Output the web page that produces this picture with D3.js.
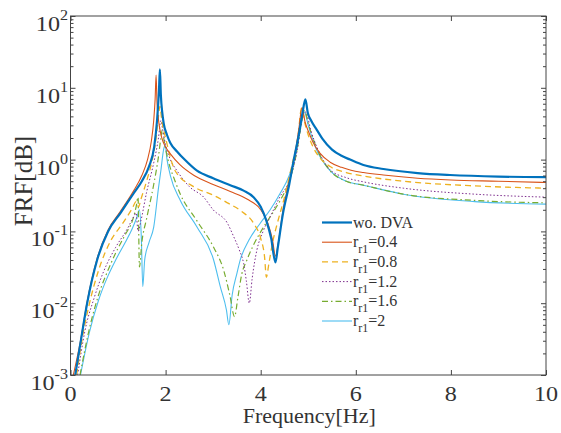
<!DOCTYPE html>
<html><head><meta charset="utf-8">
<script src="https://cdn.jsdelivr.net/npm/d3@7"></script>
<style>
body{margin:0;background:#fff}
svg text{font-family:"Liberation Serif","Times New Roman",Times,"DejaVu Serif",serif;fill:#333}
</style>
</head><body>
<svg id="chart" width="561" height="433"></svg>
<script>
// ---- data ----
const freqWo = [0.1,0.21,0.35,0.56,0.79,1.05,1.33,1.5,1.65,1.76,1.82,1.86,1.88,1.9,1.93,1.96,2.03,2.1,2.24,2.4,2.66,3.0,3.36,3.64,3.85,4.0,4.12,4.22,4.31,4.36,4.47,4.6,4.69,4.8,4.88,4.94,4.99,5.06,5.18,5.3,5.5,5.7,5.88,6.16,6.58,7.3,7.98,9,10];
const valWo  = [0.001,0.0028,0.01,0.04,0.1,0.18,0.34,0.5,0.8,1.5,3.5,9,18,8,4.5,3.2,2.2,1.7,1.3,1.0,0.7,0.55,0.44,0.37,0.3,0.22,0.14,0.08,0.037,0.06,0.18,0.45,0.95,2.2,4.5,6.9,4.5,3.5,2.6,1.95,1.38,1.13,1.0,0.84,0.74,0.65,0.61,0.58,0.57];

const freqR04 = [0.06,0.21,0.35,0.56,0.79,1.05,1.33,1.5,1.62,1.7,1.75,1.78,1.8,1.82,1.86,1.92,2.0,2.1,2.3,2.6,3.0,3.36,3.72,4.0,4.15,4.25,4.31,4.37,4.47,4.6,4.72,4.8,4.87,4.93,5.0,5.1,5.25,5.46,5.7,5.9,6.16,6.58,7.3,8,9,10];
const valR04  = [0.001,0.003,0.0105,0.042,0.105,0.19,0.37,0.6,1.0,1.8,3.5,7,15,6,3.2,2.0,1.5,1.2,0.85,0.6,0.45,0.36,0.28,0.2,0.13,0.075,0.045,0.07,0.2,0.5,1.2,2.6,5.3,3.4,2.5,1.75,1.22,0.92,0.78,0.71,0.66,0.61,0.55,0.52,0.5,0.48];

const freqR08 = [0.13,0.25,0.4,0.6,0.85,1.1,1.3,1.38,1.43,1.48,1.6,1.72,1.8,1.85,1.88,1.92,2.0,2.2,2.59,3.0,3.3,3.6,3.85,4.0,4.08,4.12,4.17,4.25,4.35,4.5,4.65,4.78,4.86,4.93,5.0,5.1,5.25,5.46,5.8,6.16,7,8.5,10];
const valR08  = [0.001,0.0033,0.01,0.03,0.075,0.13,0.21,0.26,0.22,0.28,0.5,1.0,2.0,4.0,5.5,3.5,2.0,0.7,0.42,0.32,0.25,0.19,0.13,0.08,0.045,0.023,0.035,0.07,0.13,0.3,0.8,2.0,5.2,3.2,2.2,1.5,1.05,0.8,0.66,0.59,0.5,0.43,0.40];

const freqR12 = [0.15,0.3,0.5,0.7,0.95,1.2,1.33,1.38,1.42,1.48,1.6,1.75,1.85,1.9,1.94,2.0,2.1,2.24,2.5,2.8,3.0,3.3,3.43,3.55,3.64,3.7,3.76,3.82,3.92,4.05,4.2,4.4,4.62,4.78,4.88,4.95,5.05,5.2,5.46,5.8,6.16,7,8.5,10];
const valR12  = [0.001,0.004,0.012,0.028,0.06,0.11,0.16,0.18,0.1,0.14,0.35,0.9,2.0,3.5,2.6,1.6,1.0,0.7,0.42,0.3,0.2,0.13,0.085,0.055,0.036,0.02,0.01,0.022,0.055,0.1,0.16,0.3,0.55,1.5,4.0,4.6,2.6,1.4,0.72,0.56,0.49,0.4,0.33,0.30];

const freqR16 = [0.2,0.4,0.59,0.8,0.95,1.15,1.3,1.38,1.42,1.45,1.5,1.6,1.75,1.85,1.9,1.93,1.97,2.05,2.2,2.31,2.66,3.01,3.22,3.35,3.45,3.52,3.6,3.71,3.85,4.06,4.25,4.41,4.6,4.75,4.85,4.92,5.0,5.15,5.46,5.8,6.16,7,8.5,10];
const valR16  = [0.001,0.0045,0.013,0.03,0.05,0.09,0.14,0.22,0.3,0.032,0.07,0.15,0.45,1.1,2.0,2.6,1.8,1.0,0.5,0.33,0.14,0.06,0.029,0.013,0.0065,0.012,0.025,0.04,0.065,0.115,0.18,0.27,0.5,1.2,3.0,4.8,3.2,1.6,0.70,0.5,0.44,0.33,0.27,0.25];

const freqR20 = [0.21,0.4,0.59,0.8,0.95,1.15,1.3,1.4,1.45,1.49,1.52,1.56,1.65,1.75,1.85,1.9,1.96,1.99,2.03,2.1,2.31,2.66,3.01,3.15,3.28,3.33,3.4,3.5,3.57,3.75,3.99,4.2,4.41,4.6,4.75,4.85,4.92,5.0,5.15,5.46,5.8,6.16,7,8.5,10];
const valR20  = [0.001,0.004,0.011,0.025,0.04,0.07,0.11,0.16,0.2,0.08,0.017,0.04,0.07,0.115,0.4,0.7,1.4,1.6,1.0,0.6,0.27,0.115,0.04,0.017,0.008,0.005,0.013,0.026,0.04,0.075,0.13,0.2,0.34,0.6,1.3,3.0,4.6,3.0,1.5,0.70,0.5,0.44,0.33,0.26,0.24];

const seriesLabels = ["wo. DVA","0.4","0.8","1.2","1.6","2"];
const xTickValues = [0,2,4,6,8,10];
const yTickExponents = [-3,-2,-1,0,1,2];

// ---- styles ----
const lineColors = ["#0072BD","#D95319","#EDB120","#7E2F8E","#77AC30","#4DBEEE"];
const lineWidths = [2.2,1.1,1.3,1.0,1.2,1.1];
const lineDashes = [null,null,"6,4","1.5,2","6,3,1.5,3",null];

const series = [
  [freqWo,valWo],[freqR04,valR04],[freqR08,valR08],
  [freqR12,valR12],[freqR16,valR16],[freqR20,valR20]
].map(([f,v],i)=>({label:seriesLabels[i],pts:f.map((d,j)=>[d,v[j]])}));

const svg = d3.select("#chart");
const L=70.5, R=546, T=16, B=375;
const x = d3.scaleLinear().domain([0,10]).range([L,R]);
const y = d3.scaleLog().domain([1e-3,1e2]).range([B,T]);
const axisColor="#444";

svg.append("defs").append("clipPath").attr("id","clip")
  .append("rect").attr("x",L).attr("y",T).attr("width",R-L).attr("height",B-T);

const line = d3.line().x(d=>x(d[0])).y(d=>y(d[1])).curve(d3.curveMonotoneX);
const g = svg.append("g").attr("clip-path","url(#clip)");
for(let i=series.length-1;i>=0;i--){
  g.append("path").datum(series[i].pts)
    .attr("d",line).attr("fill","none")
    .attr("stroke",lineColors[i]).attr("stroke-width",lineWidths[i])
    .attr("stroke-dasharray",lineDashes[i]).attr("stroke-linejoin","round");
}

svg.append("rect").attr("x",L).attr("y",T).attr("width",R-L).attr("height",B-T)
  .attr("fill","none").attr("stroke",axisColor).attr("stroke-width",1);

const styleAxis = s=>{s.select(".domain").remove();s.selectAll("line").attr("stroke",axisColor);};
svg.append("g").attr("transform",`translate(0,${B})`)
  .call(d3.axisBottom(x).tickValues(xTickValues).tickSize(-5).tickFormat("")).call(styleAxis);
svg.append("g").attr("transform",`translate(0,${T})`)
  .call(d3.axisTop(x).tickValues(xTickValues).tickSize(-5).tickFormat("")).call(styleAxis);
xTickValues.forEach(v=>{
  svg.append("text").attr("transform",`translate(${x(v)},400.5) scale(1.15,1)`)
    .attr("text-anchor","middle").attr("font-size",21).text(v);
});

const minor=[];
for(let e=-3;e<2;e++) for(let k=2;k<=9;k++) minor.push(k*Math.pow(10,e));
const majors = yTickExponents.map(e=>Math.pow(10,e));
[[d3.axisLeft,majors,5,L],[d3.axisLeft,minor,3,L],[d3.axisRight,majors,5,R],[d3.axisRight,minor,3,R]]
.forEach(([ax,vals,sz,px])=>{
  svg.append("g").attr("transform",`translate(${px},0)`)
    .call(ax(y).tickValues(vals).tickSize(-sz).tickFormat("")).call(styleAxis);
});
yTickExponents.forEach(e=>{
  const t = svg.append("text")
    .attr("transform",`translate(68,${y(Math.pow(10,e))+15}) scale(1.15,1)`)
    .attr("text-anchor","end").attr("font-size",21);
  t.append("tspan").text("10");
  t.append("tspan").attr("dy",-11).attr("font-size",14).text(e<0?"-"+(-e):String(e));
});

svg.append("text").attr("x",(L+R)/2+1).attr("y",423)
  .attr("text-anchor","middle").attr("font-size",22).text("Frequency[Hz]");
svg.append("text").attr("transform",`translate(32,181) rotate(-90)`)
  .attr("text-anchor","middle").attr("font-size",25).text("FRF[dB]");

const lx0=322, lx1=352, ly0=222.5, ldy=19.7;
series.forEach((s,i)=>{
  const yy = ly0+i*ldy;
  svg.append("line").attr("x1",lx0).attr("x2",lx1).attr("y1",yy).attr("y2",yy)
    .attr("stroke",lineColors[i]).attr("stroke-width",lineWidths[i])
    .attr("stroke-dasharray",lineDashes[i]);
  const t = svg.append("text").attr("x",353).attr("y",yy+5).attr("font-size",16);
  if(i===0){ t.text(s.label); }
  else {
    t.append("tspan").text("r");
    t.append("tspan").attr("dy",6).attr("font-size",12).text("r1");
    t.append("tspan").attr("dy",-6).text("="+s.label);
  }
});
</script>
</body></html>
